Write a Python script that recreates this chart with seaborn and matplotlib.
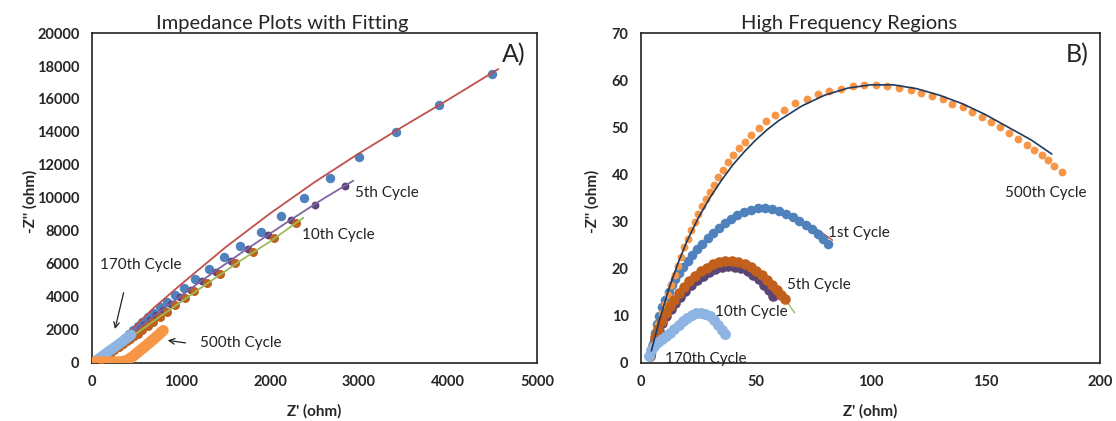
import numpy as np
import pandas as pd
import seaborn as sns
import matplotlib.pyplot as plt

# ---------------- Panel A data (full impedance) ----------------
a_c1_x = [85, 120, 160, 200, 240, 280, 325, 370, 416, 464, 513, 566, 626, 689, 764, 839, 933, 1037,
          1157, 1318, 1487, 1663, 1898, 2128, 2386, 2671, 3000, 3412, 3903, 4491]
a_c1_y = [30, 200, 400, 600, 810, 1020, 1260, 1500, 1741, 1983, 2226, 2487, 2754, 3033, 3360, 3701,
          4107, 4550, 5059, 5665, 6394, 7079, 7947, 8930, 9972, 11186, 12478, 13976, 15614, 17513]
a_c5_x = [100, 150, 200, 250, 300, 355, 410, 450, 490, 535, 590, 650, 720, 800, 890, 990, 1110, 1240,
          1390, 1560, 1755, 1978, 2233, 2506, 2843]
a_c5_y = [160, 380, 590, 800, 1000, 1230, 1470, 1640, 1830, 2050, 2300, 2580, 2880, 3220, 3580, 3980,
          4430, 4950, 5520, 6180, 6900, 7720, 8640, 9590, 10737]
a_c10_x = [100, 150, 200, 250, 300, 350, 390, 430, 470, 515, 565, 625, 690, 760, 840, 935, 1040, 1150,
           1288, 1438, 1609, 1812, 2047, 2289]
a_c10_y = [140, 340, 540, 740, 940, 1130, 1290, 1450, 1590, 1760, 1960, 2200, 2480, 2780, 3100, 3480,
           3900, 4330, 4817, 5381, 6067, 6734, 7546, 8445]
a_c170_x = [37, 60, 90, 130, 170, 210, 250, 290, 330, 370, 410, 440]
a_c170_y = [6, 180, 300, 450, 610, 770, 920, 1080, 1240, 1400, 1560, 1690]
a_c500_x = [5, 40, 80, 120, 160, 200, 250, 300, 340, 380, 420, 460, 500, 550, 600, 650, 700, 750, 800]
a_c500_y = [2, 45, 58, 55, 45, 40, 45, 55, 75, 120, 230, 380, 560, 780, 1000, 1230, 1460, 1700, 1950]
a_fit1_x = [82, 200, 400, 700, 1000, 1500, 2000, 2500, 3000, 3500, 4000, 4565]
a_fit1_y = [26, 650, 1800, 3350, 4750, 7000, 9050, 10950, 12700, 14350, 15950, 17816]
a_fit5_x = [58, 300, 700, 1200, 1700, 2200, 2600, 2936]
a_fit5_y = [14, 1150, 2850, 4850, 6750, 8550, 9950, 11040]
a_fit10_x = [65, 300, 700, 1200, 1700, 2000, 2375]
a_fit10_y = [10, 1000, 2550, 4450, 6300, 7350, 8796]

# ---------------- Panel B data (high frequency) ----------------
b_c500_x = [4.5, 6.0, 7.5, 9.0, 10.4, 11.8, 13.2, 14.7, 16.0, 17.3, 18.8, 20.3, 21.8, 23.4, 25.0, 26.6,
            28.2, 29.9, 31.6, 33.5, 35.5, 37.8, 40.2, 42.7, 45.2, 48.0, 51.2, 54.6, 58.3, 62.3, 67.1,
            72.2, 77.3, 82.1, 87.1, 92.2, 97.2, 102.4, 107.3, 112.4, 117.5, 121.9, 126.7, 131.5, 135.7,
            140.2, 144.4, 148.4, 152.4, 156.4, 160.5, 164.4, 168.1, 171.2, 174.6, 177.5, 180.0, 183.3]
b_c500_y = [2.7, 5.5, 8.3, 10.5, 12.5, 14.4, 16.5, 18.6, 20.5, 22.5, 24.5, 26.3, 28.1, 29.9, 31.6, 33.2,
            34.7, 36.2, 37.8, 39.4, 41.0, 42.6, 44.2, 45.6, 46.9, 48.3, 49.9, 51.3, 52.6, 53.7, 55.1,
            56.1, 57.0, 57.7, 58.2, 58.7, 58.9, 59.0, 58.7, 58.4, 57.9, 57.3, 56.6, 55.9, 55.0,
            54.2, 53.3, 52.2, 51.1, 50.1, 48.7, 47.5, 46.2, 45.2, 44.1, 43.0, 41.8, 40.4]
b_c1_x = [4.2, 5.0, 6.0, 7.0, 8.0, 9.2, 10.5, 12.0, 13.5, 15.0, 16.7, 18.5, 20.4, 22.4, 24.5, 26.7, 29.0,
          31.4, 33.9, 36.5, 39.2, 42.0, 44.9, 47.9, 51.0, 54.0, 57.0, 60.0, 63.0, 66.0, 69.0, 72.0,
          74.5, 77.0, 79.3, 81.5]
b_c1_y = [2.0, 4.0, 6.2, 8.2, 10.0, 11.8, 13.4, 15.0, 16.5, 17.8, 19.1, 20.4, 21.7, 22.9, 24.1, 25.3,
          26.5, 27.6, 28.6, 29.6, 30.5, 31.3, 32.0, 32.5, 32.8, 32.8, 32.6, 32.2, 31.6, 30.9, 30.1,
          29.2, 28.3, 27.3, 26.3, 25.3]
b_c5_x = [4.0, 5.0, 6.3, 7.7, 9.3, 11.0, 12.9, 14.9, 17.0, 19.3, 21.7, 24.2, 26.8, 29.5, 32.3, 35.1,
          38.0, 40.9, 43.7, 46.4, 49.0, 51.4, 53.6, 55.7, 57.6]
b_c5_y = [1.5, 3.3, 5.1, 6.8, 8.4, 9.9, 11.3, 12.7, 14.0, 15.3, 16.5, 17.6, 18.5, 19.3, 19.9, 20.3,
          20.5, 20.4, 20.1, 19.5, 18.7, 17.7, 16.6, 15.4, 14.2]
b_c10_x = [4.0, 5.0, 6.2, 7.5, 9.0, 10.7, 12.5, 14.5, 16.6, 18.8, 21.1, 23.5, 26.0, 28.6, 31.3, 34.0,
           36.8, 39.6, 42.4, 45.1, 47.7, 50.2, 52.6, 54.9, 57.1, 59.2, 61.1, 62.8]
b_c10_y = [1.5, 3.5, 5.4, 7.2, 8.9, 10.5, 12.0, 13.4, 14.8, 16.1, 17.3, 18.4, 19.4, 20.2, 20.9, 21.3,
           21.5, 21.5, 21.3, 20.9, 20.3, 19.5, 18.6, 17.6, 16.5, 15.4, 14.4, 13.5]
b_c170_x = [3.5, 4.5, 5.8, 7.3, 9.0, 10.8, 12.6, 14.5, 16.4, 18.3, 20.2, 22.1, 24.0, 26.0, 28.0, 30.0,
            31.9, 33.6, 35.1, 36.4]
b_c170_y = [1.5, 2.6, 3.5, 4.3, 5.0, 5.7, 6.4, 7.2, 8.0, 8.8, 9.5, 10.1, 10.5, 10.6, 10.4, 9.9,
            9.1, 8.1, 7.0, 6.0]
b_fit500_x = [4.5, 8, 12, 16, 20, 25, 30, 35, 40, 45, 50, 55, 60, 70, 80, 90, 100, 110, 120, 130, 140,
              150, 160, 170, 179]
b_fit500_y = [2.5, 9, 15.5, 21, 25.8, 30.8, 35, 38.7, 42, 44.8, 47.3, 49.5, 51.4, 54.5, 56.8, 58.3,
              59.0, 59.0, 58.2, 56.8, 55.0, 52.7, 50.0, 47.3, 44.3]
b_fit1_x = [4.2, 6, 8, 10.5, 13.5, 17, 21, 25, 30, 36, 42, 48, 54, 60, 66, 72, 78, 83.5]
b_fit1_y = [2, 6.3, 10, 13.4, 16.5, 19.3, 22, 24.3, 26.8, 29.3, 31.3, 32.6, 32.9, 32.4, 31.3, 29.7,
            27.9, 26.0]
b_fit10_x = [4, 7.5, 12.5, 18.8, 26, 34, 39.6, 45.1, 50.2, 54.9, 59.2, 62.8, 66.9]
b_fit10_y = [1.5, 7.2, 12, 16.1, 19.4, 21.3, 21.5, 20.9, 19.5, 17.6, 15.4, 13.5, 10.6]

C_BLUE = "#4F81BD"
C_RED = "#C0504D"
C_PURPLE = "#5B4577"
C_PURPLE_L = "#7E64A0"
C_BROWN = "#C0601C"
C_GREEN = "#9BBB59"
C_LBLUE = "#8DB4E2"
C_ORANGE = "#F79646"
C_NAVY = "#1F3A5F"
C_TXT = "#222222"

sns.set_style("white")
plt.rcParams['font.family'] = ['Lato', 'DejaVu Sans']

fig = plt.figure(figsize=(11.16, 4.21), dpi=100)
axA = fig.add_axes([0.0824, 0.1385, 0.3988, 0.783])
axB = fig.add_axes([0.5744, 0.1385, 0.4113, 0.783])


def dots(ax, x, y, color, s, z):
    sns.scatterplot(x=x, y=y, ax=ax, color=color, s=s, linewidth=0, zorder=z, legend=False)


def line(ax, x, y, color, lw, z):
    sns.lineplot(x=x, y=y, ax=ax, color=color, linewidth=lw, sort=False, estimator=None,
                 zorder=z, legend=False)


# Panel A
dots(axA, a_c1_x, a_c1_y, C_BLUE, 46, 2)
dots(axA, a_c5_x, a_c5_y, C_PURPLE, 32, 3)
dots(axA, a_c10_x, a_c10_y, C_BROWN, 42, 4)
line(axA, a_fit1_x, a_fit1_y, C_RED, 1.3, 6)
line(axA, a_fit5_x, a_fit5_y, C_PURPLE_L, 1.3, 6)
line(axA, a_fit10_x, a_fit10_y, C_GREEN, 1.3, 5)
axA.plot(a_c170_x, a_c170_y, color=C_LBLUE, lw=7.5, solid_capstyle='round', zorder=7)
axA.plot(a_c500_x, a_c500_y, color=C_ORANGE, lw=8, solid_capstyle='round', zorder=8)

axA.set_xlim(0, 5000)
axA.set_ylim(0, 20000)
axA.set_xticks(range(0, 5001, 1000))
axA.set_yticks(range(0, 20001, 2000))

fs_ann = 11
axA.text(2955, 10310, "5th Cycle", fontsize=fs_ann, va='center', ha='left', color=C_TXT)
axA.text(2356, 7747, "10th Cycle", fontsize=fs_ann, va='center', ha='left', color=C_TXT)
axA.text(90, 5927, "170th Cycle", fontsize=fs_ann, va='center', ha='left', color=C_TXT)
axA.text(1213, 1177, "500th Cycle", fontsize=fs_ann, va='center', ha='left', color=C_TXT)
axA.annotate("", xy=(820, 1377), xytext=(1083, 1177),
             arrowprops=dict(arrowstyle='->', color=C_TXT, lw=0.9))
axA.annotate("", xy=(251, 1880), xytext=(363, 4410),
             arrowprops=dict(arrowstyle='->', color=C_TXT, lw=0.9))

# Panel B
dots(axB, b_c1_x, b_c1_y, C_BLUE, 48, 2)
dots(axB, b_c500_x, b_c500_y, C_ORANGE, 32, 3)
dots(axB, b_c5_x, b_c5_y, C_PURPLE, 58, 4)
dots(axB, b_c10_x, b_c10_y, C_BROWN, 58, 5)
dots(axB, b_c170_x, b_c170_y, C_LBLUE, 62, 6)
line(axB, b_fit1_x, b_fit1_y, C_RED, 1.0, 1)
line(axB, b_fit10_x, b_fit10_y, C_GREEN, 1.0, 1)
line(axB, b_fit500_x, b_fit500_y, C_NAVY, 1.2, 7)

axB.set_xlim(0, 200)
axB.set_ylim(0, 70)
axB.set_xticks(range(0, 201, 50))
axB.set_yticks(range(0, 71, 10))

axB.text(158.6, 36.0, "500th Cycle", fontsize=fs_ann, va='center', ha='left', color=C_TXT)
axB.text(81.6, 27.5, "1st Cycle", fontsize=fs_ann, va='center', ha='left', color=C_TXT)
axB.text(63.8, 16.6, "5th Cycle", fontsize=fs_ann, va='center', ha='left', color=C_TXT)
axB.text(32.4, 10.8, "10th Cycle", fontsize=fs_ann, va='center', ha='left', color=C_TXT, zorder=10)
axB.text(10.3, 0.7, "170th Cycle", fontsize=fs_ann, va='center', ha='left', color=C_TXT, zorder=10)

for ax, ylx in ((axA, -0.139), (axB, -0.107)):
    for sp in ax.spines.values():
        sp.set_color(C_TXT)
        sp.set_linewidth(1.2)
    ax.tick_params(axis='both', length=0, pad=9, labelsize=10.5)
    for lab in ax.get_xticklabels() + ax.get_yticklabels():
        lab.set_fontweight('bold')
    ax.set_xlabel("Z' (ohm)", fontsize=11, fontweight='bold')
    ax.set_ylabel("-Z'' (ohm)", fontsize=11, fontweight='bold')
    ax.xaxis.set_label_coords(0.5, -0.149)
    ax.xaxis.label.set_va('center')
    ax.yaxis.set_label_coords(ylx, 0.49)
    ax.yaxis.label.set_va('center')

fig.text(282 / 1116, 1 - 23 / 421, "Impedance Plots with Fitting", fontsize=14.5, ha='center', va='center')
fig.text(849 / 1116, 1 - 23 / 421, "High Frequency Regions", fontsize=14.5, ha='center', va='center')
fig.text(514 / 1116, 1 - 55 / 421, "A)", fontsize=18, ha='center', va='center')
fig.text(1077 / 1116, 1 - 55 / 421, "B)", fontsize=18, ha='center', va='center')

fig.savefig("out.png", dpi=100)
